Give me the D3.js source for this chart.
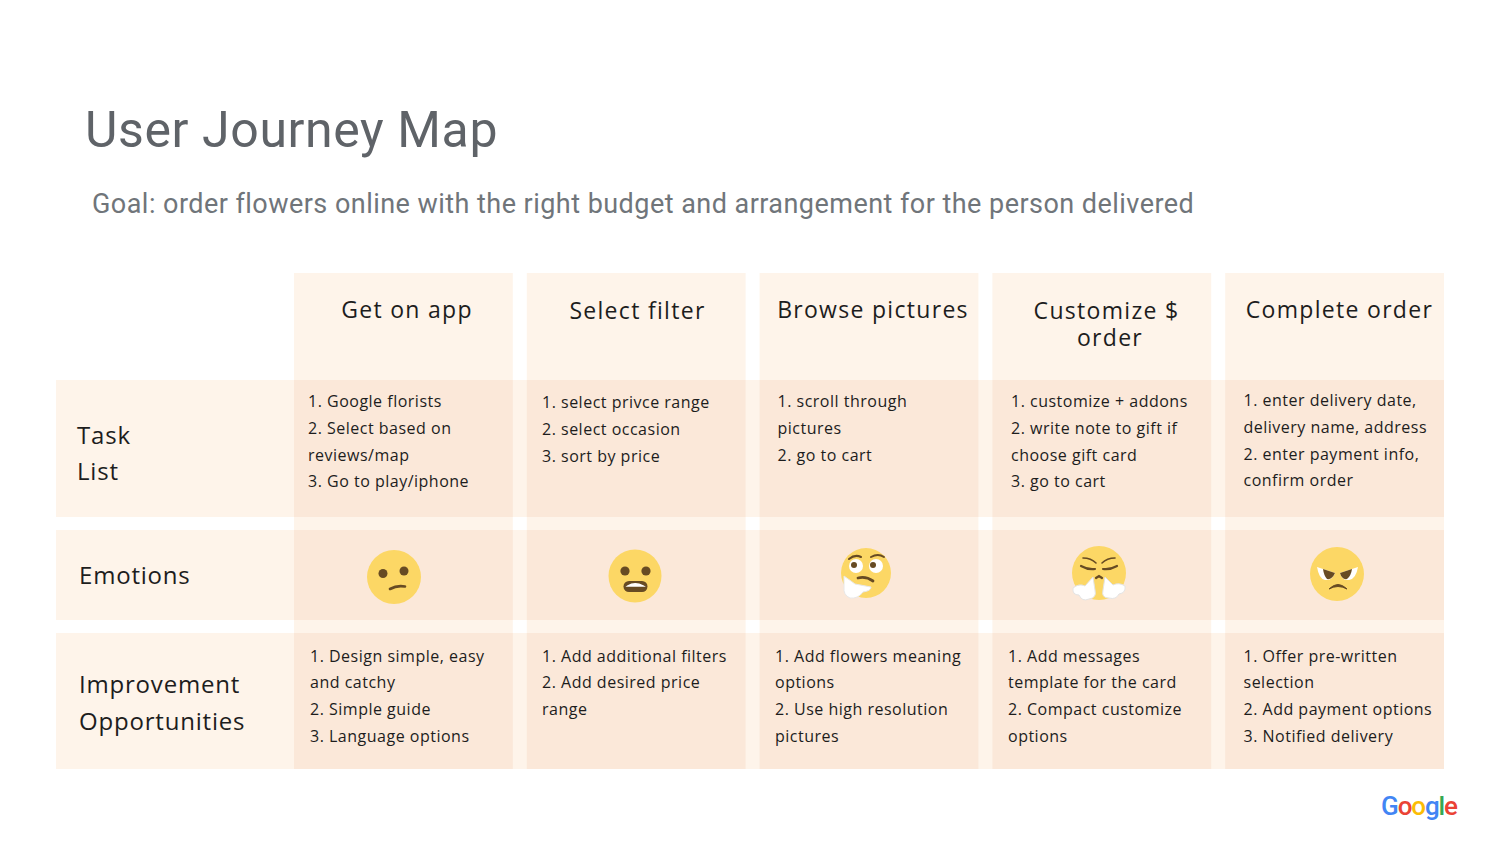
<!DOCTYPE html>
<html>
<head>
<meta charset="utf-8">
<title>User Journey Map</title>
<script src="https://cdn.jsdelivr.net/npm/d3@7"></script>
<style>
  html, body { margin: 0; padding: 0; background: #fff; }
  svg { display: block; }
  text { font-family: "Open Sans", sans-serif; fill: #1d1d1d; }
</style>
</head>
<body>
<div id="chart"></div>
<script>
// chart content
var title = "User Journey Map";
var goal = "Goal: order flowers online with the right budget and arrangement for the person delivered";
var stages = ["Get on app", "Select filter", "Browse pictures", "Customize $|order", "Complete order"];
var rowNames = ["header", "tasks", "emotions", "improvements"];
var taskList = [
    ["1. Google florists", "2. Select based on", "reviews/map", "3. Go to play/iphone"],
    ["1. select privce range", "2. select occasion", "3. sort by price"],
    ["1. scroll through", "pictures", "2. go to cart"],
    ["1. customize + addons", "2. write note to gift if", "choose gift card", "3. go to cart"],
    ["1. enter delivery date,", "delivery name, address", "2. enter payment info,", "confirm order"]
];
var emotions = ["confused", "grimace", "thinking", "steam", "angry"];
var improvements = [
    ["1. Design simple, easy", "and catchy", "2. Simple guide", "3. Language options"],
    ["1. Add additional filters", "2. Add desired price", "range"],
    ["1. Add flowers meaning", "options", "2. Use high resolution", "pictures"],
    ["1. Add messages", "template for the card", "2. Compact customize", "options"],
    ["1. Offer pre-written", "selection", "2. Add payment options", "3. Notified delivery"]
];

var light = "#fef4ea", dark = "#fbe8d9";

var svg = d3.select("#chart").append("svg")
    .attr("width", 1500)
    .attr("height", 844);

// columns and rows
var x = d3.scaleBand()
    .domain(d3.range(stages.length))
    .range([294, 1444])
    .paddingInner(14 / 233)
    .paddingOuter(0);

var rowTop = { header: 273, tasks: 380, emotions: 530, improvements: 633 };
var rowBottom = { header: 380, tasks: 517, emotions: 620, improvements: 769 };

// horizontal bands
svg.selectAll("rect.band")
    .data(rowNames.slice(1))
    .enter().append("rect")
    .attr("class", "band")
    .attr("x", 56)
    .attr("y", function (d) { return rowTop[d]; })
    .attr("width", 1388)
    .attr("height", function (d) { return rowBottom[d] - rowTop[d]; })
    .attr("fill", light);

// vertical bands
svg.selectAll("rect.col")
    .data(stages)
    .enter().append("rect")
    .attr("class", "col")
    .attr("x", function (d, i) { return x(i); })
    .attr("y", 273)
    .attr("width", x.bandwidth())
    .attr("height", 496)
    .attr("fill", light);

// cells where both overlap
rowNames.slice(1).forEach(function (r) {
    svg.selectAll("rect.cell-" + r)
        .data(stages)
        .enter().append("rect")
        .attr("class", "cell-" + r)
        .attr("x", function (d, i) { return x(i); })
        .attr("y", rowTop[r])
        .attr("width", x.bandwidth())
        .attr("height", rowBottom[r] - rowTop[r])
        .attr("fill", dark);
});

// title
svg.append("text")
    .attr("x", 85).attr("y", 147)
    .style("font-family", "Roboto")
    .style("font-size", "50px")
    .style("letter-spacing", "0.6px")
    .style("fill", "#5f6368")
    .text(title);
svg.append("text")
    .attr("x", 92).attr("y", 213)
    .style("font-family", "Roboto")
    .style("font-size", "27px")
    .style("letter-spacing", "0.46px")
    .style("fill", "#70757a")
    .text(goal);

// stage headers
var headerCenter = [407, 637.5, 873, 1106.5, 1339.5];
var headerBase = [318, 319, 318, 319, 318];
stages.forEach(function (s, i) {
    s.split("|").forEach(function (line, k) {
        svg.append("text")
            .attr("x", headerCenter[i] + k * 3.5)
            .attr("y", headerBase[i] + k * 27)
            .attr("text-anchor", "middle")
            .style("font-size", "23px")
            .style("letter-spacing", "1.3px")
            .text(line);
    });
});

// row labels
var rowLabels = [
    { t: "Task", x: 77, y: 444 },
    { t: "List", x: 77, y: 480 },
    { t: "Emotions", x: 79, y: 584 },
    { t: "Improvement", x: 79, y: 693 },
    { t: "Opportunities", x: 79, y: 730 }
];
svg.selectAll("text.rowlabel")
    .data(rowLabels)
    .enter().append("text")
    .attr("class", "rowlabel")
    .attr("x", function (d) { return d.x; })
    .attr("y", function (d) { return d.y; })
    .style("font-size", "24px")
    .style("letter-spacing", "0.8px")
    .text(function (d) { return d.t; });

// cell text
function cellText(lists, lefts, tops) {
    lists.forEach(function (lines, i) {
        svg.selectAll(null)
            .data(lines)
            .enter().append("text")
            .attr("x", lefts[i])
            .attr("y", function (d, k) { return tops[i] + k * 26.8; })
            .style("font-size", "16px")
            .style("letter-spacing", "0.5px")
            .text(function (d) { return d; });
    });
}
cellText(taskList, [308, 542, 777.5, 1011, 1243.5], [407, 408, 407, 407, 406]);
cellText(improvements, [310, 542, 775, 1008, 1243.5], [661.5, 661.5, 661.5, 661.5, 661.5]);

// emoji, drawn around their own centre
var brown = "#674b23", face = "#fcd765";
var faceCx = [394, 635, 866, 1099, 1337];
var faceCy = [577, 576, 573, 573, 574];
var faceR = [27, 26.5, 25, 27, 27];

var drawFace = {
    confused: function (g) {
        dot(g, -11, -3.5, 4.5); dot(g, 10, -6, 4.5);
        stroke(g, "M-4,12 Q3,8 11,9.5", 2.6);
    },
    grimace: function (g) {
        dot(g, -10, -5, 4.6); dot(g, 11, -5, 4.6);
        g.append("rect").attr("x", -11.5).attr("y", 5).attr("width", 24).attr("height", 11)
            .attr("rx", 5.5).attr("fill", brown);
        g.append("path").attr("d", "M-7,10 Q0,5.5 8,10 Z").attr("fill", "#fff")
            .attr("stroke", "#fff").attr("stroke-width", 1.5);
    },
    thinking: function (g) {
        g.append("circle").attr("cx", -10).attr("cy", -7).attr("r", 7).attr("fill", "#fff");
        g.append("circle").attr("cx", 10).attr("cy", -7).attr("r", 7).attr("fill", "#fff");
        dot(g, -12, -8, 3); dot(g, 7, -8, 3);
        stroke(g, "M-17,-14 Q-11,-19 -5,-16", 2);
        stroke(g, "M5,-16 Q12,-20 18,-16", 2);
        stroke(g, "M-8,5 Q0,3 7,8", 2.8);
        g.append("path")
            .attr("d", "M-22,3 L-15,8 L-11,11 L5,14 Q5,18 -3,19 Q-8,26 -16,25 Q-23,22 -22,14 Z")
            .attr("fill", "#fff").attr("stroke", "#e8e8e8").attr("stroke-width", 1);
    },
    steam: function (g) {
        stroke(g, "M-16,-15 Q-8,-15 -3,-10", 1.6);
        stroke(g, "M16,-15 Q8,-15 3,-10", 1.6);
        stroke(g, "M-18,-7 Q-11,-3 -4,-4", 2.2);
        stroke(g, "M18,-7 Q11,-3 4,-4", 2.2);
        stroke(g, "M-3,5 L0,3 L3,5", 2.2);
        cloud(g, "M-6,4 L-4,17 Q-2,25 -10,26 Q-17,29 -20,22 Q-27,22 -26,15 Q-20,10 -14,13 Z");
        cloud(g, "M6,4 L4,17 Q2,25 10,25 Q17,27 20,21 Q27,20 26,13 Q20,9 14,12 Z");
    },
    angry: function (g) {
        g.append("path").attr("d", "M-20,-7 L-2,-1 Q-5,7 -12,6 Q-18,5 -20,-7 Z").attr("fill", "#fff");
        g.append("path").attr("d", "M21,-7 L3,-1 Q5,7 12,6 Q19,5 21,-7 Z").attr("fill", "#fff");
        g.append("path").attr("d", "M-14,-5 L-2,-1 Q-5,6 -10,5 Q-13,2 -14,-5 Z").attr("fill", brown);
        g.append("path").attr("d", "M15,-5 L3,-1 Q5,6 10,5 Q14,2 15,-5 Z").attr("fill", brown);
        g.append("path").attr("d", "M-8,15 Q1,6 10,15 Q1,10 -8,15 Z").attr("fill", brown)
            .attr("stroke", brown).attr("stroke-width", 1);
    }
};

function dot(g, cx, cy, r) {
    g.append("circle").attr("cx", cx).attr("cy", cy).attr("r", r).attr("fill", brown);
}
function stroke(g, d, w) {
    g.append("path").attr("d", d).attr("fill", "none").attr("stroke", brown)
        .attr("stroke-width", w).attr("stroke-linecap", "round");
}
function cloud(g, d) {
    g.append("path").attr("d", d).attr("fill", "#fff").attr("stroke", "#e4e4e4").attr("stroke-width", 1);
}

emotions.forEach(function (e, i) {
    var g = svg.append("g").attr("transform", "translate(" + faceCx[i] + "," + faceCy[i] + ")");
    g.append("circle").attr("r", faceR[i]).attr("fill", face);
    drawFace[e](g);
});

// logo
var logoLetters = ["G", "o", "o", "g", "l", "e"];
var logoColors = ["#4285f4", "#ea4335", "#fbbc05", "#4285f4", "#34a853", "#ea4335"];
var logo = svg.append("text")
    .attr("x", 1381).attr("y", 815)
    .style("font-family", "Roboto")
    .style("font-size", "26px")
    .style("font-weight", "500")
    .style("letter-spacing", "-1.1px");
logo.selectAll("tspan")
    .data(logoLetters)
    .enter().append("tspan")
    .style("fill", function (d, i) { return logoColors[i]; })
    .text(function (d) { return d; });
</script>
</body>
</html>
